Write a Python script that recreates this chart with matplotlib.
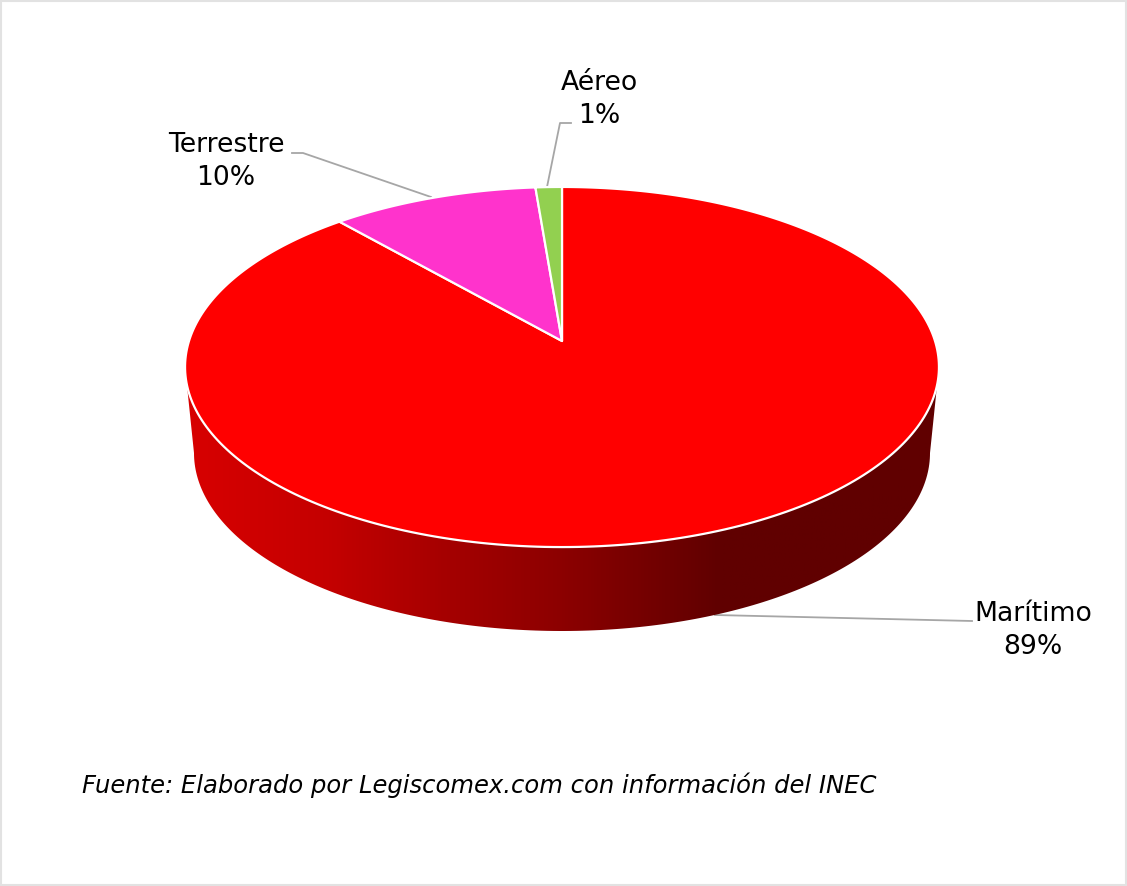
#!/usr/bin/env python3

import numpy as np
import matplotlib
matplotlib.use('Agg')
import matplotlib.pyplot as plt
from matplotlib.colors import LinearSegmentedColormap
from matplotlib.patches import Polygon, Rectangle

categories = ['Marítimo', 'Terrestre', 'Aéreo']
values = [88.5, 10.2, 1.3]
pct_labels = ['89%', '10%', '1%']
colors = ['#ff0000', '#ff33cc', '#92d050']
source = 'Fuente: Elaborado por Legiscomex.com con información del INEC'

W, H = 1127, 887
cx, apex_y = 562, 342
k = 0.1445
A = 176.3
B = 373.0


# tilted disc: unit circle seen in perspective, angle clockwise from the top
def project(theta):
    u, v = np.sin(theta), np.cos(theta)
    w = 1 + k * v
    return cx + B * u / w, apex_y - A * v / w


fig = plt.figure(figsize=(W / 100, H / 100), dpi=100)
ax = fig.add_axes([0, 0, 1, 1])
ax.set_xlim(0, W)
ax.set_ylim(H, 0)
ax.axis('off')

ax.add_patch(Rectangle((1, 1.5), W - 2.5, H - 2.5, fill=False, ec='#e2e2e2', lw=1.5))

# side wall of the disc
t = np.linspace(np.pi / 2, 3 * np.pi / 2, 200)
low_x = cx + 368 * np.sin(t)
low_y = 454 - 178 * np.cos(t)
t2 = np.linspace(3 * np.pi / 2, np.pi / 2, 200)
top_x = 562 + 377 * np.sin(t2)
top_y = 367.5 - 180.5 * np.cos(t2)
side = Polygon(np.r_[np.c_[top_x, top_y], np.c_[low_x, low_y]], closed=True,
               fc='none', ec='none')
ax.add_patch(side)
shade = LinearSegmentedColormap.from_list('side', [
    (0.0, '#d80000'), (0.19, '#c40000'), (0.34, '#a60000'),
    (0.5, '#8c0000'), (0.71, '#600000'), (1.0, '#600000')])
grad = ax.imshow(np.linspace(0, 1, 512)[None, :], cmap=shade, aspect='auto',
                 extent=(185, 939, 640, 360), zorder=1)
grad.set_clip_path(side)
ax.set_xlim(0, W)
ax.set_ylim(H, 0)

# top face, slices run clockwise from twelve o'clock
bounds = np.cumsum([0] + values) / sum(values) * 2 * np.pi
for i in range(len(values)):
    th = np.linspace(bounds[i], bounds[i + 1], 300)
    x, y = project(th)
    pts = np.r_[[[cx, apex_y]], np.c_[x, y]]
    ax.add_patch(Polygon(pts, closed=True, fc=colors[i], ec='white', lw=1.6,
                         joinstyle='round', zorder=3))

# leader lines
line_col = '#a6a6a6'
ax.plot([715, 972], [616, 622], color=line_col, lw=1.3, zorder=0)
ax.plot([431, 303, 292], [198, 154, 154], color=line_col, lw=1.3, zorder=2)
ax.plot([547, 560, 571], [188, 124, 124], color=line_col, lw=1.3, zorder=2)

font = 'DejaVu Sans'
label_pos = [(1033, 630.5), (226, 161.5), (599, 99.5)]
for name, pct, (lx, ly) in zip(categories, pct_labels, label_pos):
    ax.text(lx, ly, name + '\n' + pct, ha='center', va='center', fontsize=19.2,
            family=font, linespacing=1.37, color='black', zorder=5)

ax.text(82, 785, source, ha='left', va='center', fontsize=17.46, style='italic',
        family=font, color='black')

fig.savefig('out.png', dpi=100)
